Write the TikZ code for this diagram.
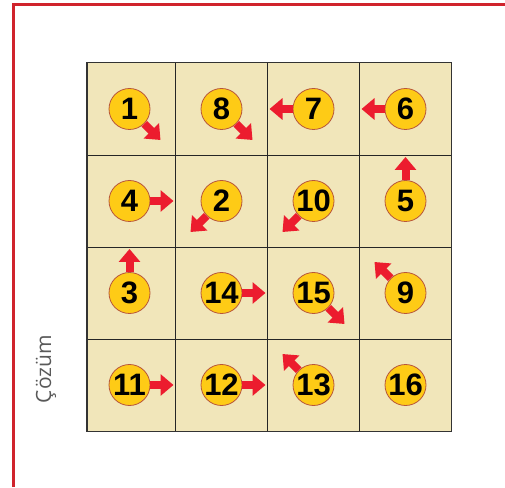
\documentclass[tikz,border=0pt]{standalone}
\usepackage{fontspec}
\usepackage{xcolor}
\usepackage{tikz}
\usetikzlibrary{arrows.meta}
\setmainfont{Liberation Sans}
\newfontfamily\captionfont{Open Sans}
\definecolor{framered}{HTML}{D0232C}
\definecolor{cellbeige}{HTML}{F1E6BA}
\definecolor{coingold}{HTML}{FECB16}
\definecolor{coinrim}{HTML}{B8563A}
\definecolor{movered}{HTML}{EC1C2E}

\begin{document}
\begin{tikzpicture}[x=1pt, y=1pt,
  every node/.style={font=\bfseries\fontsize{31}{31}\selectfont},
  coin/.style={circle, draw=coinrim, line width=0.8pt, fill=coingold,
               minimum size=41pt, inner sep=0pt},
  move/.style={-{Triangle[width=21pt,length=13pt]}, line width=8pt, draw=movered},
  cellline/.style={line width=1.1pt, draw=black!85}
]
\useasboundingbox (0,0) rectangle (505,487);
% frame
\draw[framered, line width=3pt] (13.5,0) |- (505,482.3);
% board
\fill[cellbeige] (87,55.5) rectangle (451.5,424.3);
\draw[cellline] (175.5,55.5) -- (175.5,424.3) (267.5,55.5) -- (267.5,424.3)
                (359.5,55.5) -- (359.5,424.3);
\draw[cellline] (87,147.7) -- (451.5,147.7) (87,239.7) -- (451.5,239.7)
                (87,331.7) -- (451.5,331.7);
\draw[line width=1.6pt, draw=black!80] (87,55.5) rectangle (451.5,424.3);
\node[font=\captionfont\fontsize{21}{21}\selectfont, text=black!65, rotate=90]
  (cozum) at (46,118) {Çözüm};
% numbered coins
\node[coin] (c1)  at (129.5,378) {1};
\node[coin] (c8)  at (221.5,378) {8};
\node[coin] (c7)  at (313.5,378) {7};
\node[coin] (c6)  at (405.5,378) {6};
\node[coin] (c4)  at (129.5,286) {4};
\node[coin] (c2)  at (221.5,286) {2};
\node[coin] (c10) at (313.5,286) {10};
\node[coin] (c5)  at (405.5,286) {5};
\node[coin] (c3)  at (129.5,194) {3};
\node[coin] (c14) at (221.5,194) {14};
\node[coin] (c15) at (313.5,194) {15};
\node[coin] (c9)  at (405.5,194) {9};
\node[coin] (c11) at (129.5,102) {11};
\node[coin] (c12) at (221.5,102) {12};
\node[coin] (c13) at (313.5,102) {13};
\node[coin] (c16) at (405.5,102) {16};
% move directions
\coordinate (t1)  at (160.5,347);
\coordinate (t8)  at (252.5,347);
\coordinate (t7)  at (269.5,378);
\coordinate (t6)  at (361.5,378);
\coordinate (t4)  at (173.5,286);
\coordinate (t2)  at (190.5,255);
\coordinate (t10) at (282.5,255);
\coordinate (t5)  at (405.5,330);
\coordinate (t3)  at (129.5,238);
\coordinate (t14) at (265.5,194);
\coordinate (t15) at (344.5,163);
\coordinate (t9)  at (374.5,225);
\coordinate (t11) at (173.5,102);
\coordinate (t12) at (265.5,102);
\coordinate (t13) at (282.5,133);
\draw[move] (c1)  -- (t1);
\draw[move] (c8)  -- (t8);
\draw[move] (c7)  -- (t7);
\draw[move] (c6)  -- (t6);
\draw[move] (c4)  -- (t4);
\draw[move] (c2)  -- (t2);
\draw[move] (c10) -- (t10);
\draw[move] (c5)  -- (t5);
\draw[move] (c3)  -- (t3);
\draw[move] (c14) -- (t14);
\draw[move] (c15) -- (t15);
\draw[move] (c9)  -- (t9);
\draw[move] (c11) -- (t11);
\draw[move] (c12) -- (t12);
\draw[move] (c13) -- (t13);
\end{tikzpicture}
\end{document}
